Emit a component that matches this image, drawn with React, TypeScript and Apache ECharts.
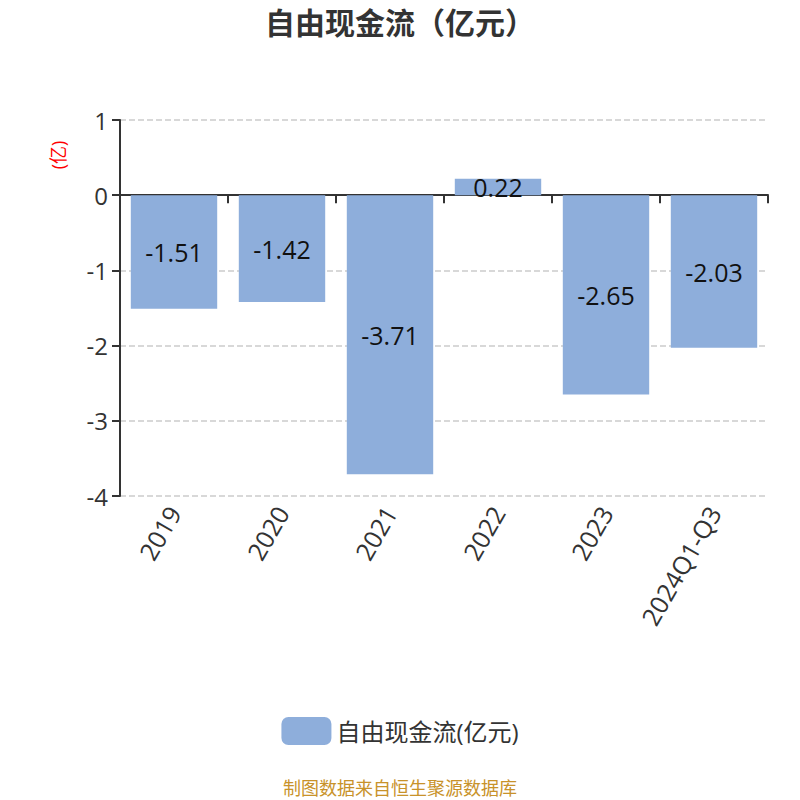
import * as echarts from 'echarts';
import { useEffect, useRef } from 'react';

const categories = ['2019', '2020', '2021', '2022', '2023', '2024Q1-Q3'];
const values = [-1.51, -1.42, -3.71, 0.22, -2.65, -2.03];
const seriesName = '自由现金流(亿元)';
const titleText = '自由现金流（亿元）';
const unitLabel = '(亿)';
const sourceText = '制图数据来自恒生聚源数据库';

const font = '"Open Sans", "Noto Sans CJK SC", sans-serif';

export default function App() {
  const ref = useRef<HTMLDivElement>(null);

  useEffect(() => {
    document.body.style.margin = '0';
    const chart = echarts.init(ref.current!, undefined, { renderer: 'svg' });
    chart.setOption({
      animation: false,
      backgroundColor: '#fff',
      textStyle: { fontFamily: font },
      title: {
        text: titleText,
        left: 'center',
        top: 2,
        textStyle: { fontSize: 30, fontWeight: 'bold', color: '#333', fontFamily: font },
      },
      grid: { left: 120, right: 32, top: 120, bottom: 304 },
      legend: {
        bottom: 50,
        left: 'center',
        itemWidth: 50,
        itemHeight: 28,
        itemGap: 12,
        textStyle: { fontSize: 24, color: '#333', fontFamily: font },
        data: [seriesName],
      },
      graphic: [
        {
          type: 'text',
          x: 58,
          y: 155,
          rotation: Math.PI / 2,
          style: {
            text: unitLabel,
            fill: '#ff0000',
            fontSize: 18,
            fontFamily: font,
            align: 'center',
            verticalAlign: 'middle',
          },
        },
        {
          type: 'text',
          x: 400,
          y: 788,
          style: {
            text: sourceText,
            fill: '#c8922a',
            fontSize: 18,
            fontFamily: font,
            align: 'center',
            verticalAlign: 'middle',
          },
        },
      ],
      xAxis: {
        type: 'category',
        data: categories,
        axisLine: { onZero: true, lineStyle: { color: '#333', width: 2 } },
        axisTick: { show: true, length: 8, lineStyle: { color: '#333', width: 2 } },
        axisLabel: {
          interval: 0,
          rotate: 60,
          fontSize: 25,
          color: '#333',
          margin: 12,
          fontFamily: font,
        },
      },
      yAxis: {
        type: 'value',
        min: -4,
        max: 1,
        interval: 1,
        axisLine: { show: true, lineStyle: { color: '#333', width: 2 } },
        axisTick: { show: true, length: 8, lineStyle: { color: '#333', width: 2 } },
        axisLabel: { fontSize: 24, color: '#333', margin: 12, fontFamily: font },
        splitLine: { lineStyle: { type: 'dashed', color: '#ccc', width: 1.5 } },
      },
      series: [
        {
          type: 'bar',
          name: seriesName,
          data: values,
          barWidth: '80%',
          itemStyle: { color: '#8eaedb' },
          label: {
            show: true,
            position: 'inside',
            fontSize: 25,
            color: '#111',
            fontFamily: font,
          },
        },
      ],
    });
    return () => chart.dispose();
  }, []);

  return <div ref={ref} style={{ width: 800, height: 800 }} />;
}
